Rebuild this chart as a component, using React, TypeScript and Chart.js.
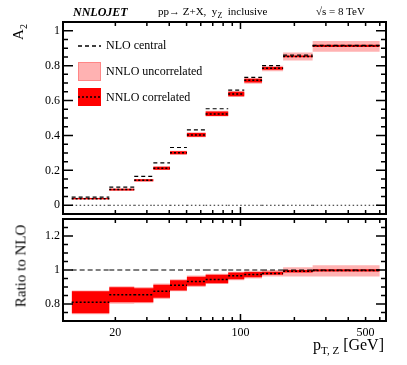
import React, { useEffect, useRef } from 'react';
import { Chart, registerables } from 'chart.js';
Chart.register(...registerables);

// ---------- data ----------
const binEdges = [11.4, 18.5, 25.5, 32.6, 40.4, 50.2, 63.9, 85.4, 105, 132, 173, 253, 600];

const nloA2 = [0.047, 0.104, 0.166, 0.243, 0.331, 0.432, 0.553, 0.66, 0.733, 0.8, 0.86, 0.916];
const nnloA2 = [0.038, 0.09, 0.143, 0.212, 0.301, 0.402, 0.523, 0.638, 0.716, 0.785, 0.853, 0.912];
const nnloCorrLo = [0.034, 0.085, 0.137, 0.204, 0.292, 0.392, 0.511, 0.625, 0.704, 0.777, 0.848, 0.907];
const nnloCorrHi = [0.042, 0.095, 0.149, 0.221, 0.31, 0.414, 0.537, 0.65, 0.725, 0.792, 0.858, 0.919];
const nnloUncLo = [0.033, 0.083, 0.135, 0.202, 0.29, 0.389, 0.508, 0.62, 0.696, 0.768, 0.829, 0.88];
const nnloUncHi = [0.043, 0.096, 0.15, 0.224, 0.313, 0.418, 0.541, 0.654, 0.729, 0.8, 0.875, 0.941];
const zeroLine = [0, 0, 0, 0, 0, 0, 0, 0, 0, 0, 0, 0];

const nloRatio = [1, 1, 1, 1, 1, 1, 1, 1, 1, 1, 1, 1];
const ratioNNLO = [0.81, 0.855, 0.855, 0.875, 0.91, 0.932, 0.944, 0.966, 0.974, 0.98, 0.992, 0.997];
const ratioCorrLo = [0.745, 0.81, 0.81, 0.837, 0.88, 0.907, 0.922, 0.946, 0.958, 0.972, 0.986, 0.991];
const ratioCorrHi = [0.875, 0.898, 0.893, 0.913, 0.94, 0.96, 0.972, 0.985, 0.988, 0.99, 1.0, 1.004];
const ratioUncLo = [0.74, 0.802, 0.805, 0.83, 0.875, 0.9, 0.918, 0.94, 0.95, 0.962, 0.962, 0.962];
const ratioUncHi = [0.88, 0.905, 0.9, 0.92, 0.945, 0.967, 0.978, 0.99, 0.995, 1.0, 1.016, 1.028];

const upperYTicks = [0, 0.2, 0.4, 0.6, 0.8, 1];
const lowerYTicks = [0.8, 1, 1.2];
const xTickLabels = [20, 100, 500];
const xMinorTicks = [20, 30, 40, 50, 60, 70, 80, 90, 200, 300, 400, 500, 600];
const xMajorTicks = [100];

const legendLabels = ['NLO central', 'NNLO uncorrelated', 'NNLO correlated'];

// ---------- helpers ----------
const FONT = "'Liberation Serif', 'Times New Roman', serif";
const RED = '#ff0000';
const PINK = 'rgba(255,0,0,0.3)';

const segData = (vals: number[]) =>
  vals.flatMap((v, i) => [
    { x: binEdges[i], y: v },
    { x: binEdges[i + 1], y: v },
    { x: binEdges[i + 1], y: null as any },
  ]);
const stepData = (vals: number[]) =>
  binEdges.map((e, i) => ({ x: e, y: vals[Math.min(i, vals.length - 1)] }));

const lineDs = (data: any, dash: number[], width: number, color = '#000') => ({
  data,
  borderColor: color,
  borderDash: dash,
  borderWidth: width,
  pointRadius: 0,
  fill: false,
  spanGaps: false,
  tension: 0,
});
const bandDs = (hi: number[], lo: number[], color: string) => [
  {
    data: stepData(hi),
    stepped: 'before',
    borderColor: 'rgba(0,0,0,0)',
    borderWidth: 0,
    backgroundColor: color,
    pointRadius: 0,
    fill: '+1',
  },
  {
    data: stepData(lo),
    stepped: 'before',
    borderColor: 'rgba(0,0,0,0)',
    borderWidth: 0,
    pointRadius: 0,
    fill: false,
  },
];

function framePlugin(yMin: number, yMax: number, yMajors: number[], legend: boolean) {
  return {
    id: 'frameTicks',
    afterDraw(chart: any) {
      const { ctx, chartArea: a, scales } = chart;
      const xs = scales.x;
      const ys = scales.y;
      ctx.save();
      ctx.strokeStyle = '#000';
      ctx.lineWidth = 1.5;
      ctx.setLineDash([]);
      ctx.beginPath();
      for (let k = Math.ceil(yMin / 0.05 - 1e-6); k * 0.05 <= yMax + 1e-9; k++) {
        const v = k * 0.05;
        const major = yMajors.some((m) => Math.abs(m - v) < 1e-6);
        const len = major ? 10 : 5;
        const py = ys.getPixelForValue(v);
        ctx.moveTo(a.left, py);
        ctx.lineTo(a.left + len, py);
        ctx.moveTo(a.right, py);
        ctx.lineTo(a.right - len, py);
      }
      const xt = [
        ...xMinorTicks.map((v) => [v, 4]),
        ...xMajorTicks.map((v) => [v, 7]),
      ];
      xt.forEach(([v, len]) => {
        const px = xs.getPixelForValue(v);
        ctx.moveTo(px, a.bottom);
        ctx.lineTo(px, a.bottom - len);
        ctx.moveTo(px, a.top);
        ctx.lineTo(px, a.top + len);
      });
      ctx.stroke();
      ctx.lineWidth = 2;
      ctx.strokeRect(a.left, a.top, a.right - a.left, a.bottom - a.top);

      if (legend) {
        // NLO central
        ctx.lineWidth = 1.3;
        ctx.setLineDash([4, 3]);
        ctx.beginPath();
        ctx.moveTo(78, 46);
        ctx.lineTo(101, 46);
        ctx.stroke();
        ctx.setLineDash([]);
        // NNLO uncorrelated
        ctx.fillStyle = PINK;
        ctx.fillRect(78, 62, 23, 19);
        ctx.strokeStyle = 'rgba(255,0,0,0.25)';
        ctx.lineWidth = 1;
        ctx.strokeRect(78.5, 62.5, 22, 18);
        // NNLO correlated
        ctx.fillStyle = RED;
        ctx.fillRect(78, 88, 23, 18);
        ctx.strokeStyle = '#000';
        ctx.lineWidth = 1.5;
        ctx.setLineDash([2, 2]);
        ctx.beginPath();
        ctx.moveTo(78, 97);
        ctx.lineTo(101, 97);
        ctx.stroke();
        ctx.setLineDash([]);
        ctx.fillStyle = '#000';
        ctx.font = `12px ${FONT}`;
        ctx.textBaseline = 'middle';
        ctx.textAlign = 'left';
        ctx.fillText(legendLabels[0], 106, 46);
        ctx.fillText(legendLabels[1], 106, 72);
        ctx.fillText(legendLabels[2], 106, 98);
      }
      ctx.restore();
    },
  };
}

export default function App() {
  const upRef = useRef<HTMLCanvasElement>(null);
  const loRef = useRef<HTMLCanvasElement>(null);

  useEffect(() => {
    const xBase = { type: 'logarithmic', min: 10.2, max: 650 };
    const yCommon = (ticks: number[], min: number, max: number) => ({
      type: 'linear',
      min,
      max,
      grid: { display: false, drawTicks: false, tickLength: 0 },
      border: { display: false },
      afterBuildTicks: (s: any) => {
        s.ticks = ticks.map((v) => ({ value: v }));
      },
      afterFit: (s: any) => {
        s.width = 63;
        s.paddingTop = 0;
        s.paddingBottom = 0;
      },
      ticks: {
        autoSkip: false,
        padding: 3,
        color: '#000',
        font: { family: FONT, size: 12 },
        callback: (v: any) => String(v),
      },
    });

    const up = new Chart(upRef.current!, {
      type: 'line',
      data: {
        datasets: [
          lineDs(segData(nnloA2), [2, 2], 1.5),
          lineDs(segData(nloA2), [4, 3], 1.2),
          ...bandDs(nnloCorrHi, nnloCorrLo, RED),
          ...bandDs(nnloUncHi, nnloUncLo, PINK),
          lineDs(segData(zeroLine), [1.5, 2.5], 1, '#222'),
        ] as any,
      },
      options: {
        responsive: false,
        animation: false,
        layout: { padding: { top: 22, right: 21, bottom: 4, left: 0 } },
        plugins: { legend: { display: false }, tooltip: { enabled: false } },
        scales: {
          x: { ...xBase, display: false } as any,
          y: yCommon(upperYTicks, -0.05, 1.05) as any,
        },
      },
      plugins: [framePlugin(-0.05, 1.05, upperYTicks, true)],
    });

    const lo = new Chart(loRef.current!, {
      type: 'line',
      data: {
        datasets: [
          lineDs(segData(ratioNNLO), [2, 2], 1.5),
          lineDs(segData(nloRatio), [5, 3], 1.2),
          ...bandDs(ratioCorrHi, ratioCorrLo, RED),
          ...bandDs(ratioUncHi, ratioUncLo, PINK),
        ] as any,
      },
      options: {
        responsive: false,
        animation: false,
        layout: { padding: { top: 1, right: 21, bottom: 0, left: 0 } },
        plugins: { legend: { display: false }, tooltip: { enabled: false } },
        scales: {
          x: {
            ...xBase,
            grid: { display: false, drawTicks: false, tickLength: 0 },
            border: { display: false },
            afterBuildTicks: (s: any) => {
              s.ticks = xTickLabels.map((v) => ({ value: v }));
            },
            afterFit: (s: any) => {
              s.height = 44;
              s.paddingLeft = 0;
              s.paddingRight = 0;
            },
            ticks: {
              autoSkip: false,
              maxRotation: 0,
              padding: 5,
              color: '#000',
              font: { family: FONT, size: 12 },
              callback: (v: any) => String(v),
            },
          } as any,
          y: yCommon(lowerYTicks, 0.7, 1.3) as any,
        },
      },
      plugins: [framePlugin(0.7, 1.3, lowerYTicks, false)],
    });

    return () => {
      up.destroy();
      lo.destroy();
    };
  }, []);

  const txt: React.CSSProperties = {
    position: 'absolute',
    fontFamily: FONT,
    whiteSpace: 'pre',
    color: '#000',
    lineHeight: 1,
  };

  return (
    <div style={{ position: 'absolute', left: 0, top: 0, width: 407, height: 365, background: '#fff' }}>
      <canvas ref={upRef} width={407} height={218} style={{ position: 'absolute', left: 0, top: 0 }} />
      <canvas ref={loRef} width={407} height={147} style={{ position: 'absolute', left: 0, top: 218 }} />
      <div style={{ ...txt, left: 73, top: 6, fontSize: 12, fontWeight: 'bold', fontStyle: 'italic' }}>NNLOJET</div>
      <div style={{ ...txt, left: 158, top: 6, fontSize: 11 }}>
        pp{'\u2192'} Z+X,  y<sub style={{ fontSize: 8 }}>Z</sub>  inclusive
      </div>
      <div style={{ ...txt, left: 316, top: 6, fontSize: 11 }}>{'\u221A'}s = 8 TeV</div>
      <div
        style={{
          ...txt,
          left: 20,
          top: 32,
          fontSize: 15,
          transform: 'translate(-50%,-50%) rotate(-90deg)',
        }}
      >
        A<sub style={{ fontSize: 10 }}>2</sub>
      </div>
      <div
        style={{
          ...txt,
          left: 21,
          top: 266,
          fontSize: 15,
          transform: 'translate(-50%,-50%) rotate(-90deg)',
        }}
      >
        Ratio to NLO
      </div>
      <div style={{ ...txt, left: 313, top: 337, fontSize: 16 }}>
        p<sub style={{ fontSize: 11 }}>T, Z</sub> [GeV]
      </div>
    </div>
  );
}
